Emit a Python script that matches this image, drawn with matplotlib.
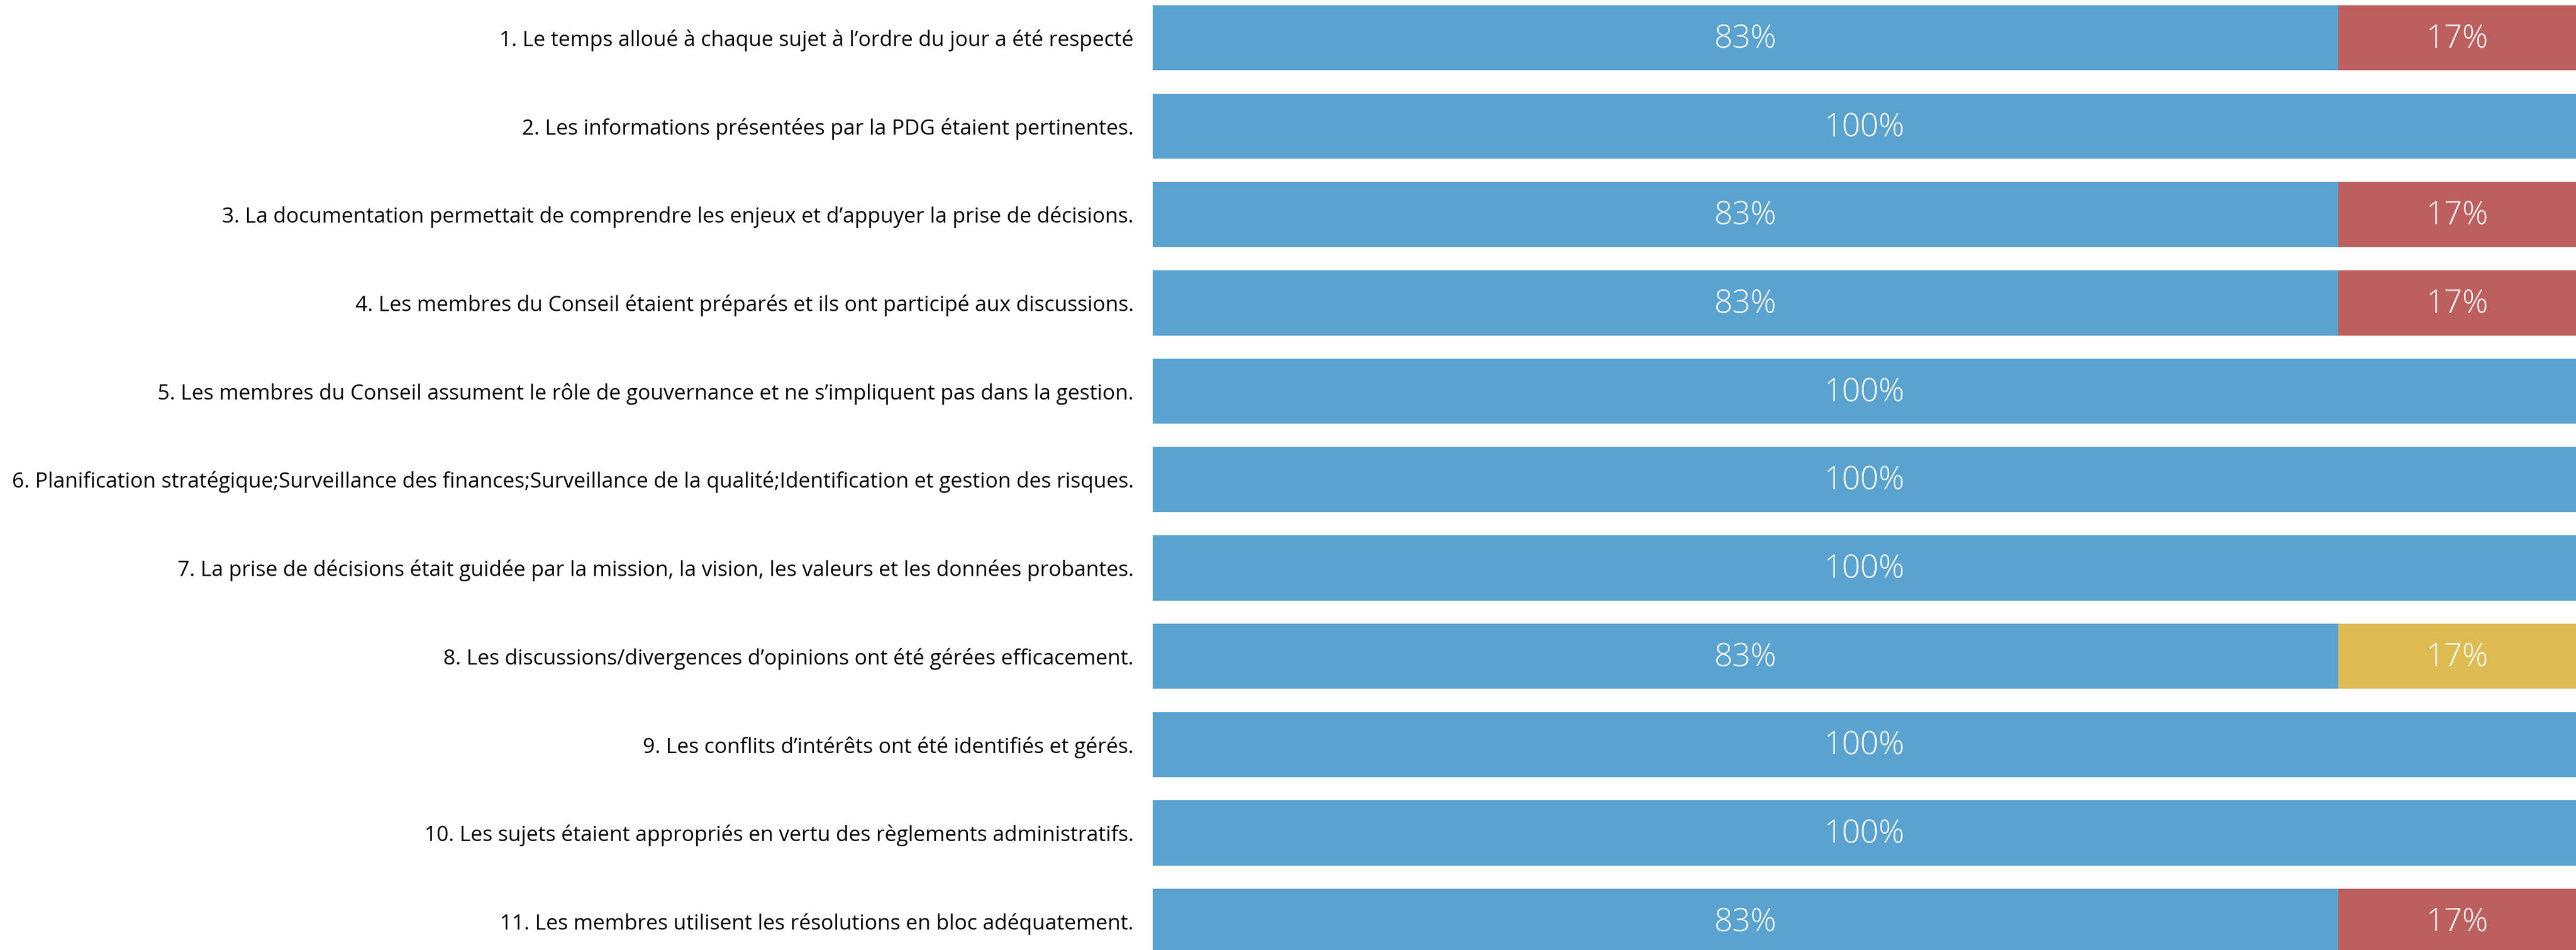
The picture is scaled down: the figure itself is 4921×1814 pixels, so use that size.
import matplotlib.pyplot as plt
import numpy as np

plt.rcParams['font.family'] = ['Open Sans', 'DejaVu Sans']

questions = [
    "1. Le temps alloué à chaque sujet à l’ordre du jour a été respecté",
    "2. Les informations présentées par la PDG étaient pertinentes.",
    "3. La documentation permettait de comprendre les enjeux et d’appuyer la prise de décisions.",
    "4. Les membres du Conseil étaient préparés et ils ont participé aux discussions.",
    "5. Les membres du Conseil assument le rôle de gouvernance et ne s’impliquent pas dans la gestion.",
    "6. Planification stratégique;Surveillance des finances;Surveillance de la qualité;Identification et gestion des risques.",
    "7. La prise de décisions était guidée par la mission, la vision, les valeurs et les données probantes.",
    "8. Les discussions/divergences d’opinions ont été gérées efficacement.",
    "9. Les conflits d’intérêts ont été identifiés et gérés.",
    "10. Les sujets étaient appropriés en vertu des règlements administratifs.",
    "11. Les membres utilisent les résolutions en bloc adéquatement.",
]
# share of answers per question (%)
share_blue = [83.3, 100, 83.3, 83.3, 100, 100, 100, 83.3, 100, 100, 83.3]
share_red = [16.7, 0, 16.7, 16.7, 0, 0, 0, 0, 0, 0, 16.7]
share_yellow = [0, 0, 0, 0, 0, 0, 0, 16.7, 0, 0, 0]

c_blue = '#5AA2CF'
c_red = '#BE5F5F'
c_yellow = '#DEBB53'

fig = plt.figure(figsize=(49.21, 18.14), dpi=100)
ax = fig.add_axes([2202 / 4921, 0, 1 - 2202 / 4921, 1])

y = np.arange(len(questions))
blue = np.array(share_blue)
red = np.array(share_red)
yellow = np.array(share_yellow)

h = 0.738
ax.barh(y, blue, height=h, color=c_blue)
ax.barh(y, red, left=blue, height=h, color=c_red)
ax.barh(y, yellow, left=blue + red, height=h, color=c_yellow)

# labels centred in each segment
for i in range(len(questions)):
    start = 0
    for v in (blue[i], red[i], yellow[i]):
        if v > 0:
            ax.text(start + v / 2, i + 0.02, f"{v:.0f}%", ha='center', va='center',
                    color='white', fontsize=44, fontweight='light')
        start += v

ax.set_xlim(0, 100)
ax.set_ylim(10.325, -0.428)
ax.set_yticks(y)
ax.set_yticklabels(questions, fontsize=29, color='black')
ax.tick_params(axis='y', length=0, pad=26)
ax.set_xticks([])
for s in ax.spines.values():
    s.set_visible(False)

fig.savefig('out.png', dpi=100)
